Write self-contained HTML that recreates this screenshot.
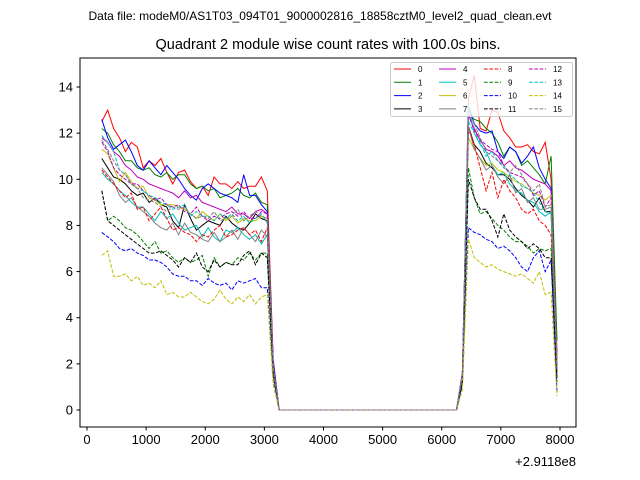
<!DOCTYPE html>
<html><head><meta charset="utf-8"><style>
body{margin:0;background:#fff;}
svg{display:block;font-family:"Liberation Sans","DejaVu Sans",sans-serif;}
</style></head><body>
<svg id="chart" width="640" height="480">
<rect width="640" height="480" fill="#fff"/>
<text x="320" y="20" font-size="12" text-anchor="middle">Data file: modeM0/AS1T03_094T01_9000002816_18858cztM0_level2_quad_clean.evt</text>
<text x="328" y="49" font-size="14.5" text-anchor="middle">Quadrant 2 module wise count rates with 100.0s bins.</text>
<g id="plot"></g>
<rect x="80" y="58" width="496" height="369" fill="none" stroke="#000" stroke-width="1"/>
<g id="axes"></g>
<text x="576" y="466" font-size="13" text-anchor="end">+2.9118e8</text>
<g id="legend"></g>
</svg>
<script>
const labels=["0","1","2","3","4","5","6","7","8","9","10","11","12","13","14","15"];
const colors=["#ff0000","#008000","#0000ff","#000000","#bf00bf","#00bfbf","#bfbf00","#808080","#ff0000","#008000","#0000ff","#000000","#bf00bf","#00bfbf","#bfbf00","#808080"];
const seg1=[
[12.5,13,12.2,11.8,11.2,11.6,11.4,10.5,10.8,10.6,10.9,10.3,9.8,10.3,10.4,9.9,9.6,9.7,9.3,10.1,9.8,9.8,9.6,9.9,9.6,9.7,9.7,10.1,9.5],
[12.2,12,11.5,11.2,10.8,10.8,10.5,10.4,10.5,10.2,10.1,10.3,10,10.2,10.2,9.8,9.6,9.7,9.5,9.6,9.2,9.3,9.4,9.6,9.3,9.2,9.4,9.0,8.9],
[12.6,11.8,11.3,11.5,11.7,11.2,10.6,10.4,10.8,10.5,10.2,10.6,10.3,10,9.6,9.3,9.1,9.6,9.8,9.6,9.4,9.3,9.2,9.0,10.2,9.3,9.3,8.9,8.6],
[10.9,10.5,10.1,10,9.8,9.5,9.3,9.4,9,9.2,8.9,8.8,8.2,7.9,8.9,8.3,7.8,8,8.2,8.1,8,8.4,8.1,7.9,7.8,8.1,8.5,8.3,8.2],
[11.8,11.6,11.2,11,10.6,10.4,10.1,10,9.8,9.7,9.6,9.5,9.4,9.2,9.5,9.2,9.3,9.0,8.9,8.8,8.7,8.6,8.8,8.5,8.5,8.3,8.6,8.7,8.5],
[10.3,10,9.8,9.5,9.3,9,8.8,8.8,8.5,8.2,8.6,8.3,8.5,8.1,7.8,7.9,8.0,7.5,7.9,7.5,7.3,7.8,7.7,7.9,7.6,7.4,7.6,7.2,7.6],
[11.3,11.1,10.5,9.9,10.3,9.9,9.6,9.7,9.2,9.1,8.9,8.9,8.9,8.8,8.7,8.5,8.3,8.6,8.4,8.2,8.5,8.2,8.4,8.1,8.3,8.2,8.2,8.4,8.3],
[10.5,10.2,9.9,9.3,9.0,9.2,8.8,8.6,8.4,8.1,7.9,7.8,8.1,7.6,8.1,7.7,7.6,7.4,7.3,7.7,7.3,7.5,7.8,7.4,7.9,7.6,7.3,7.8,7.5],
[10.4,10.1,9.8,9.5,9.2,9.4,8.7,8.8,8.2,8.5,8.8,8.3,7.8,7.9,7.7,7.6,7.3,7.6,7.5,7.8,8.0,7.5,7.6,7.8,7.9,7.6,7.8,7.3,7.9],
[9.5,8.2,8.4,8.2,7.9,7.8,7.6,7.3,7.0,7.3,6.8,6.9,6.6,6.4,6.6,6.4,6.5,6.7,5.8,6.6,6.2,6.4,6.3,6.6,6.5,6.8,6.5,6.8,6.8],
[7.7,7.5,7.3,7.0,6.9,7.0,6.8,6.7,6.5,6.5,6.4,6.2,5.9,5.8,5.8,5.6,5.6,5.4,5.7,5.5,5.4,5.5,5.2,5.6,5.5,5.6,5.7,5.3,5.3],
[9.5,8.2,8.0,7.8,7.6,7.4,7.2,7.0,6.8,6.8,6.9,6.7,6.5,6.2,6.6,6.4,6.8,6.2,6.0,6.5,6.2,6.4,6.3,6.3,6.7,6.9,6.3,6.8,6.6],
[11.6,11.2,10.5,10.2,10,9.8,9.8,9.5,9.3,9.1,9.2,8.9,8.8,8.9,8.6,8.5,8.8,8.4,8.2,8.4,8.3,8.5,8.6,8.4,8.6,8.3,8.3,8.6,8.5],
[11.9,11.6,11.2,10.4,10.2,9.8,9.6,9.5,9.3,9.2,9.0,8.9,8.7,8.8,8.9,8.4,8.6,8.4,8.4,8.2,8.5,8.3,8.5,8.2,8.4,8.1,8.3,8.5,8.1],
[6.7,6.9,5.8,5.8,5.9,5.6,5.8,5.4,5.5,5.3,5.6,5.0,5.1,4.9,4.9,5.1,4.9,4.7,4.6,4.8,5.2,4.8,4.6,4.9,4.7,5.0,4.6,4.9,5.0],
[11.7,11.3,10.8,10.4,10.2,9.8,9.6,9.2,9.1,9.0,8.8,8.6,8.8,8.7,8.8,8.5,8.3,8.4,8.3,8.6,8.2,8.3,8.4,8.7,8.2,8.4,8.6,8.4,8.3]];
const seg2=[
[13.5,14.5,12.2,12.1,13,12.9,12.1,11.8,11.4,11.4,11.5,11.2,11.1,11.6,10],
[12.8,12.6,12.5,12.2,12,11.6,11,11.4,11.2,10.6,10.8,10.5,10.2,9.8,11],
[13.2,12.4,12.1,12.0,12.1,11.2,10.9,11.4,11.2,10.7,11,11.4,10.5,10,9.6],
[12.3,11.5,11.2,10.7,10.5,10.2,10.2,10,9.6,9.3,9.1,8.8,9.2,8.6,8.6],
[12.8,12.2,11.7,11.3,11.2,11,10.6,10.8,10.5,10.4,10.2,10,9.9,9.8,9.5],
[13.2,12,11.5,11.2,10.6,10.2,10.3,9.8,9.5,9.4,9.1,9.0,8.6,8.4,8.6],
[11.8,11.3,10.9,10.6,10.7,10.4,10.3,10.1,9.9,9.8,9.6,9.4,9.3,9.1,9.3],
[12.3,11.3,10.9,10.4,10.6,10.1,9.8,10.2,9.4,9.6,9.0,9.2,8.7,8.7,8.8],
[12.2,11.5,10.5,9.5,10.3,9.2,10,9.5,9.2,8.7,8.5,8.7,8.2,8.0,7.6],
[10.5,9.2,8.5,8.6,8.3,8.0,7.8,7.5,7.3,7.3,7.1,6.8,7.0,6.9,7.0],
[7.9,7.7,7.6,7.4,7.3,7.0,7.1,6.9,6.6,6.2,6.0,6.6,6.9,6.0,6.5],
[10,9.2,8.7,8.7,8.2,7.5,8.5,7.8,7.5,7.3,7.0,7.2,7.0,6.6,6.6],
[12.8,12.1,11.7,11.5,11.3,11.2,10.6,10.3,10.2,10.1,9.8,9.3,9.5,8.8,9.2],
[12.5,12,11.6,11.0,11.2,10.8,10.6,10.2,10.0,9.7,9.6,9.4,9.0,8.6,8.5],
[7.4,6.6,6.4,6.2,6.3,6.1,6.0,5.9,5.8,5.9,5.7,5.5,6.0,5.0,5.1],
[13,12.4,11.8,11.2,11.0,10.8,10.5,10.3,10.6,10.2,9.8,9.5,9.8,8.8,8.9]];
const dropVals=[2.2,2.0,2.1,1.8,1.9,1.7,1.8,1.7,1.8,1.5,1.2,1.6,1.9,1.8,1.1,1.9];
const riseVals=[1.6,1.5,1.6,1.3,1.5,1.5,1.4,1.4,1.4,1.2,1.0,1.2,1.5,1.5,0.9,1.5];
const endVals=[2.5,3.0,2.0,1.5,2.2,1.8,2.0,1.5,1.7,1.2,0.8,1.3,1.9,1.7,0.6,1.8];
const xTicks=[0,1000,2000,3000,4000,5000,6000,7000,8000];
const yTicks=[0,2,4,6,8,10,12,14];
const NS="http://www.w3.org/2000/svg";
function X(v){return 87+v*0.059125;}
function Y(v){return 410-v*23.07;}
function mk(t,a,p){const e=document.createElementNS(NS,t);for(const k in a)e.setAttribute(k,a[k]);(p||document.getElementById('plot')).appendChild(e);return e;}
const plot=document.getElementById('plot');
for(let s=0;s<16;s++){
  const pts=[];
  seg1[s].forEach((v,i)=>pts.push([250+i*100,v]));
  pts.push([3150,dropVals[s]]);
  for(let t=3250;t<=6250;t+=100)pts.push([t,0]);
  pts.push([6350,riseVals[s]]);
  seg2[s].forEach((v,i)=>pts.push([6450+i*100,v]));
  pts.push([7950,endVals[s]]);
  const d=pts.map((p,i)=>(i?'L':'M')+X(p[0]).toFixed(1)+','+Y(p[1]).toFixed(1)).join('');
  const a={d:d,fill:'none',stroke:colors[s],'stroke-width':1};
  if(s>=8)a['stroke-dasharray']='3.7,1.6';
  const el=mk('path',a,plot);
  
  
}
const axes=document.getElementById('axes');
xTicks.forEach(v=>{
  const l=mk('line',{x1:X(v),x2:X(v),y1:427,y2:430.5,stroke:'#000'},axes);
  
  
  const t=mk('text',{x:X(v),y:444,'font-size':13,'text-anchor':'middle'},axes);
  t.textContent=v;
  
  
});
yTicks.forEach(v=>{
  const l=mk('line',{x1:76.5,x2:80,y1:Y(v),y2:Y(v),stroke:'#000'},axes);
  
  
  const t=mk('text',{x:73,y:Y(v)+4.5,'font-size':13,'text-anchor':'end'},axes);
  t.textContent=v;
  
  
});
const lg=document.getElementById('legend');
mk('rect',{x:390.5,y:62.5,width:182,height:54,rx:2,fill:'#fff','fill-opacity':0.8,stroke:'#ccc'},lg);
for(let s=0;s<16;s++){
  const col=Math.floor(s/4),row=s%4;
  const x0=394+col*45,y0=69+row*13.3;
  const a={x1:x0,x2:x0+17,y1:y0,y2:y0,stroke:colors[s],'stroke-width':1};
  if(s>=8)a['stroke-dasharray']='3.7,1.6';
  const ln=mk('line',a,lg);
  
  
  const t=mk('text',{x:x0+24,y:y0+3,'font-size':8},lg);
  t.textContent=labels[s];
  
  
}
</script>
</body></html>
